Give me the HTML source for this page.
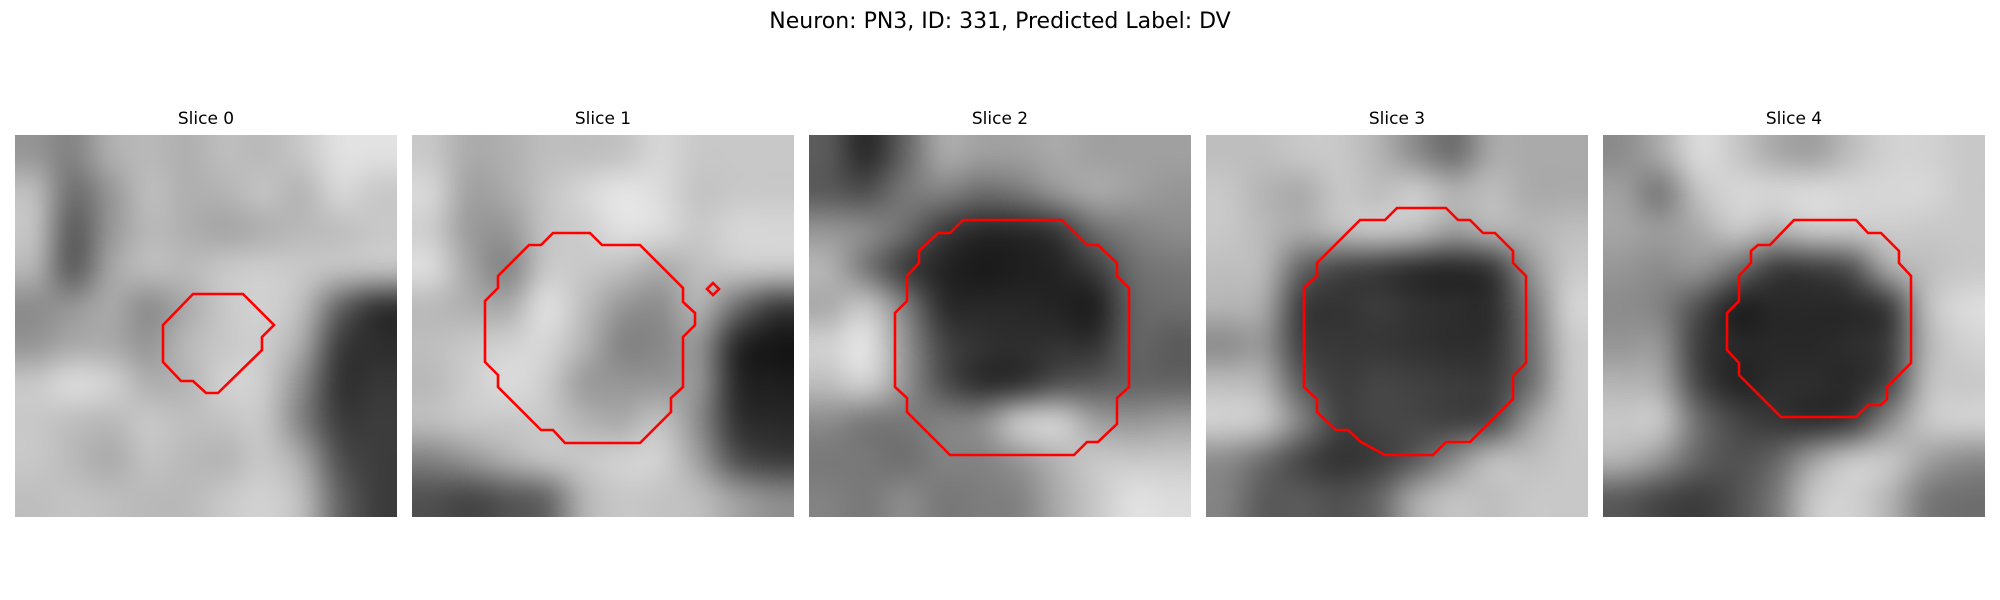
<!DOCTYPE html>
<html><head><meta charset="utf-8">
<style>
html,body{margin:0;padding:0;background:#fff;}
#root{position:relative;width:2000px;height:600px;overflow:hidden;font-family:"DejaVu Sans","Liberation Sans",sans-serif;color:#000;}
.title{position:absolute;left:0;width:2000px;top:8px;text-align:center;font-size:22px;line-height:28px;}
.st{position:absolute;width:382px;text-align:center;font-size:17px;line-height:20px;top:109px;}
canvas{position:absolute;top:135px;width:382px;height:382px;}
svg{position:absolute;left:0;top:0;}
</style></head>
<body>
<div id="root">
<div class="title">Neuron: PN3, ID: 331, Predicted Label: DV</div>
</div>
<script>
const panelX=[15,412,809,1206,1603];
const titles=["Slice 0","Slice 1","Slice 2","Slice 3","Slice 4"];
const img0=[[150,130,175,185,175,190,185,200,225,225],[190,110,150,190,175,180,195,180,215,200],[195,90,150,185,175,165,175,185,190,200],[180,90,165,190,185,200,205,200,195,195],[140,150,170,140,170,200,210,190,100,50],[150,170,170,150,185,200,205,170,60,45],[200,220,210,175,180,210,205,140,50,55],[200,190,185,200,190,195,200,130,60,60],[200,185,170,195,185,180,200,170,80,60],[190,195,190,185,185,200,210,190,100,60]];
const img1=[[200,170,175,190,190,195,215,200,200,200],[215,160,170,195,215,230,220,195,200,200],[205,155,150,195,205,225,220,200,215,215],[220,165,130,200,200,190,170,190,200,200],[185,175,170,225,190,150,140,180,110,60],[190,200,210,215,180,130,135,150,40,20],[185,205,220,205,155,150,150,150,40,30],[190,200,200,200,180,170,195,140,50,40],[130,150,175,195,200,210,210,160,80,60],[80,70,85,100,180,200,195,190,160,140]];
const img2=[[90,40,100,170,160,160,170,160,160,160],[90,80,120,130,110,120,150,170,160,150],[150,140,110,60,40,40,55,110,130,140],[180,120,60,35,25,30,35,60,110,120],[170,200,130,45,40,40,35,30,100,110],[210,230,150,70,50,45,50,50,100,90],[190,210,150,80,45,50,80,90,100,100],[140,120,120,130,140,200,210,160,150,160],[120,120,110,130,130,150,180,200,200,200],[130,120,140,120,125,130,170,200,225,220]];
const img3=[[190,190,200,200,180,140,110,170,170,170],[200,180,170,200,190,205,180,190,170,170],[200,185,170,190,200,190,160,180,180,190],[190,185,100,70,60,45,40,55,150,200],[180,170,60,50,60,50,45,45,120,210],[140,150,65,55,55,50,45,50,110,200],[190,180,90,60,70,65,60,60,110,200],[210,200,130,65,70,70,65,75,160,200],[140,110,70,50,60,90,140,190,190,200],[130,90,90,80,100,170,195,190,200,200]];
const img4=[[140,170,220,200,170,160,190,210,210,200],[160,120,195,215,215,220,215,215,215,200],[165,155,170,200,180,200,200,205,200,200],[150,140,150,110,60,60,80,170,190,200],[140,130,80,30,40,40,40,60,190,220],[150,150,60,40,40,40,45,60,180,210],[180,170,70,35,45,45,40,70,190,200],[200,200,110,70,55,45,60,140,200,210],[180,150,100,80,100,160,200,200,160,140],[90,70,60,80,120,200,210,180,120,110]];
const images=[img0,img1,img2,img3,img4];
const contour0=[[178,159],[228,159],[259,190],[247,202],[247,215],[203,258],[191,258],[178,246],[166,246],[148,227],[148,190]];
const contour1=[[141,98],[178,98],[190,110],[228,110],[271,153],[271,167],[283,178],[283,190],[271,202],[271,252],[259,263],[259,277],[228,308],[153,308],[141,295],[129,295],[86,252],[86,240],[73,227],[73,166],[86,153],[86,141],[117,110],[129,110]];
const contour1b=[[301,148],[307,154],[301,160],[295,154]];
const contour2=[[154,85],[253,85],[278,110],[289,110],[308,128],[308,141],[320,153],[320,252],[308,263],[308,289],[289,307],[278,307],[265,320],[141,320],[98,277],[98,263],[86,252],[86,178],[98,166],[98,141],[110,128],[110,116],[129,98],[141,98]];
const contour3=[[191,73],[240,73],[252,85],[264,85],[277,98],[289,98],[307,116],[307,128],[320,141],[320,228],[307,241],[307,264],[264,307],[240,307],[227,320],[179,320],[155,307],[142,295],[130,295],[111,277],[111,264],[98,252],[98,153],[111,141],[111,128],[154,85],[179,85]];
const contour4=[[191,85],[253,85],[265,98],[278,98],[296,116],[296,128],[308,141],[308,228],[284,252],[284,264],[278,270],[265,270],[253,282],[178,282],[136,240],[136,228],[124,215],[124,178],[136,166],[136,141],[148,128],[148,116],[155,110],[167,110]];
const contours=[[contour0],[contour1,contour1b],[contour2],[contour3],[contour4]];

const root=document.getElementById('root');
const NS='http://www.w3.org/2000/svg';
const svg=document.createElementNS(NS,'svg');
svg.setAttribute('width','2000');svg.setAttribute('height','600');


for(let p=0;p<5;p++){
  const t=document.createElement('div');
  t.className='st';t.style.left=panelX[p]+'px';t.textContent=titles[p];
  
  
  root.appendChild(t);
  const g=images[p];const n=g.length;
  const small=document.createElement('canvas');small.width=n;small.height=n;
  const sc=small.getContext('2d');const id=sc.createImageData(n,n);
  for(let r=0;r<n;r++)for(let c=0;c<n;c++){const k=(r*n+c)*4;const v=g[r][c];id.data[k]=v;id.data[k+1]=v;id.data[k+2]=v;id.data[k+3]=255;}
  sc.putImageData(id,0,0);
  const cv=document.createElement('canvas');cv.width=382;cv.height=382;
  cv.style.left=panelX[p]+'px';
  
  
  const cx=cv.getContext('2d');cx.imageSmoothingEnabled=true;cx.imageSmoothingQuality='high';
  cx.drawImage(small,0,0,n,n,0,0,382,382);
  root.appendChild(cv);
  contours[p].forEach((pts,i)=>{
    const pl=document.createElementNS(NS,'polygon');
    pl.setAttribute('points',pts.map(q=>(q[0]+panelX[p])+','+(q[1]+135)).join(' '));
    pl.setAttribute('fill','none');pl.setAttribute('stroke','#ff0000');pl.setAttribute('stroke-width','2.6');
    
    
    svg.appendChild(pl);
  });
}
root.appendChild(svg);
</script>
</body></html>
